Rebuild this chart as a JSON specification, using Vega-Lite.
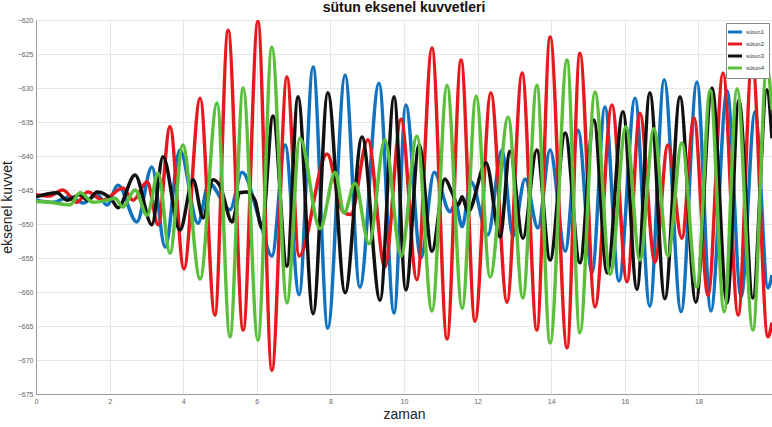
{
  "$schema": "https://vega.github.io/schema/vega-lite/v6.json",
  "width": 736,
  "height": 374,
  "autosize": {"type": "none"},
  "padding": {"left": 36, "top": 20, "right": 0, "bottom": 33},
  "background": "white",
  "config": {
    "font": "Liberation Sans",
    "view": {"stroke": "#9a9a9a", "strokeWidth": 1},
    "axis": {"grid": true, "gridColor": "#e6e6e6", "gridWidth": 1, "ticks": false, "domainColor": "#9a9a9a", "labelFont": "Liberation Sans", "labelFontSize": 7, "labelColor": "#666666", "titleFont": "Liberation Sans", "titleFontWeight": "normal", "titleColor": "#222222", "titleFontSize": 14}
  },
  "title": {"text": "sütun eksenel kuvvetleri", "font": "Liberation Sans", "fontSize": 14, "fontWeight": "bold", "color": "#111111", "offset": 1},
  "data": {
    "values": [
      {"s":"sütun1","t":0,"v":-646.5},{"s":"sütun1","t":0.46,"v":-646.8},{"s":"sütun1","t":0.92,"v":-646.0},{"s":"sütun1","t":1.28,"v":-646.9},{"s":"sütun1","t":1.66,"v":-645.7},{"s":"sütun1","t":1.93,"v":-647.2},{"s":"sütun1","t":2.23,"v":-644.3},{"s":"sütun1","t":2.74,"v":-649.7},{"s":"sütun1","t":3.15,"v":-641.6},{"s":"sütun1","t":3.51,"v":-653.4},{"s":"sütun1","t":3.91,"v":-639.1},{"s":"sütun1","t":4.40,"v":-649.9},{"s":"sütun1","t":4.70,"v":-644.0},{"s":"sütun1","t":5.27,"v":-647.9},{"s":"sütun1","t":5.60,"v":-642.4},{"s":"sütun1","t":6.09,"v":-649.7},{"s":"sütun1","t":6.41,"v":-654.7},{"s":"sütun1","t":6.77,"v":-638.4},{"s":"sütun1","t":7.15,"v":-660.4},{"s":"sütun1","t":7.53,"v":-626.9},{"s":"sütun1","t":7.93,"v":-665.3},{"s":"sütun1","t":8.40,"v":-628.1},{"s":"sütun1","t":8.80,"v":-659.3},{"s":"sütun1","t":9.32,"v":-629.3},{"s":"sütun1","t":9.73,"v":-663.1},{"s":"sütun1","t":10.05,"v":-632.5},{"s":"sütun1","t":10.46,"v":-655.0},{"s":"sütun1","t":10.82,"v":-642.4},{"s":"sütun1","t":11.25,"v":-648.2},{"s":"sütun1","t":11.40,"v":-647.0},{"s":"sütun1","t":11.58,"v":-650.4},{"s":"sütun1","t":11.82,"v":-643.8},{"s":"sütun1","t":12.28,"v":-651.6},{"s":"sütun1","t":12.66,"v":-639.1},{"s":"sütun1","t":12.96,"v":-651.8},{"s":"sütun1","t":13.29,"v":-643.4},{"s":"sütun1","t":13.64,"v":-650.6},{"s":"sütun1","t":13.97,"v":-639.1},{"s":"sütun1","t":14.38,"v":-654.0},{"s":"sütun1","t":14.73,"v":-636.2},{"s":"sütun1","t":15.11,"v":-657.1},{"s":"sütun1","t":15.46,"v":-632.8},{"s":"sütun1","t":15.84,"v":-658.4},{"s":"sütun1","t":16.28,"v":-631.5},{"s":"sütun1","t":16.68,"v":-662.1},{"s":"sütun1","t":17.07,"v":-628.8},{"s":"sütun1","t":17.53,"v":-662.9},{"s":"sütun1","t":17.96,"v":-629.1},{"s":"sütun1","t":18.34,"v":-662.8},{"s":"sütun1","t":18.78,"v":-630.4},{"s":"sütun1","t":19.16,"v":-660.7},{"s":"sütun1","t":19.54,"v":-633.5},{"s":"sütun1","t":19.89,"v":-659.4},{"s":"sütun1","t":20.0,"v":-657.5},
      {"s":"sütun2","t":0,"v":-645.7},{"s":"sütun2","t":0.35,"v":-645.9},{"s":"sütun2","t":0.73,"v":-645.0},{"s":"sütun2","t":1.11,"v":-646.8},{"s":"sütun2","t":1.41,"v":-645.3},{"s":"sütun2","t":1.82,"v":-646.5},{"s":"sütun2","t":2.36,"v":-644.7},{"s":"sütun2","t":2.64,"v":-646.5},{"s":"sütun2","t":3.02,"v":-643.8},{"s":"sütun2","t":3.32,"v":-650.1},{"s":"sütun2","t":3.64,"v":-635.7},{"s":"sütun2","t":4.02,"v":-656.6},{"s":"sütun2","t":4.46,"v":-631.5},{"s":"sütun2","t":4.86,"v":-663.4},{"s":"sütun2","t":5.22,"v":-621.5},{"s":"sütun2","t":5.63,"v":-665.6},{"s":"sütun2","t":6.03,"v":-620.2},{"s":"sütun2","t":6.41,"v":-671.5},{"s":"sütun2","t":6.82,"v":-628.4},{"s":"sütun2","t":7.15,"v":-654.7},{"s":"sütun2","t":7.91,"v":-639.7},{"s":"sütun2","t":8.34,"v":-648.2},{"s":"sütun2","t":8.55,"v":-648.6},{"s":"sütun2","t":9.02,"v":-637.6},{"s":"sütun2","t":9.48,"v":-656.3},{"s":"sütun2","t":9.92,"v":-634.6},{"s":"sütun2","t":10.35,"v":-658.2},{"s":"sütun2","t":10.76,"v":-624.1},{"s":"sütun2","t":11.17,"v":-666.9},{"s":"sütun2","t":11.55,"v":-625.9},{"s":"sütun2","t":11.93,"v":-664.3},{"s":"sütun2","t":12.36,"v":-630.7},{"s":"sütun2","t":12.80,"v":-661.5},{"s":"sütun2","t":13.21,"v":-627.8},{"s":"sütun2","t":13.61,"v":-665.6},{"s":"sütun2","t":13.97,"v":-622.5},{"s":"sütun2","t":14.43,"v":-668.2},{"s":"sütun2","t":14.78,"v":-624.9},{"s":"sütun2","t":15.19,"v":-662.2},{"s":"sütun2","t":15.65,"v":-632.5},{"s":"sütun2","t":16.06,"v":-658.5},{"s":"sütun2","t":16.41,"v":-633.7},{"s":"sütun2","t":16.82,"v":-655.6},{"s":"sütun2","t":17.17,"v":-638.4},{"s":"sütun2","t":17.55,"v":-652.1},{"s":"sütun2","t":17.88,"v":-634.4},{"s":"sütun2","t":18.26,"v":-660.5},{"s":"sütun2","t":18.67,"v":-627.8},{"s":"sütun2","t":19.08,"v":-663.4},{"s":"sütun2","t":19.46,"v":-625.9},{"s":"sütun2","t":19.89,"v":-666.6},{"s":"sütun2","t":20.0,"v":-664.5},
      {"s":"sütun3","t":0,"v":-646.0},{"s":"sütun3","t":0.57,"v":-645.4},{"s":"sütun3","t":0.84,"v":-646.5},{"s":"sütun3","t":1.20,"v":-645.7},{"s":"sütun3","t":1.41,"v":-646.5},{"s":"sütun3","t":1.66,"v":-645.3},{"s":"sütun3","t":2.07,"v":-646.5},{"s":"sütun3","t":2.23,"v":-647.6},{"s":"sütun3","t":2.69,"v":-642.8},{"s":"sütun3","t":3.15,"v":-650.1},{"s":"sütun3","t":3.45,"v":-640.1},{"s":"sütun3","t":3.91,"v":-650.9},{"s":"sütun3","t":4.27,"v":-643.5},{"s":"sütun3","t":4.54,"v":-649.1},{"s":"sütun3","t":4.81,"v":-643.5},{"s":"sütun3","t":5.00,"v":-644.4},{"s":"sütun3","t":5.33,"v":-649.7},{"s":"sütun3","t":5.54,"v":-645.4},{"s":"sütun3","t":5.73,"v":-645.3},{"s":"sütun3","t":5.95,"v":-646.5},{"s":"sütun3","t":6.14,"v":-650.6},{"s":"sütun3","t":6.44,"v":-634.1},{"s":"sütun3","t":6.82,"v":-656.2},{"s":"sütun3","t":7.12,"v":-631.3},{"s":"sütun3","t":7.53,"v":-663.2},{"s":"sütun3","t":7.93,"v":-630.7},{"s":"sütun3","t":8.40,"v":-660.1},{"s":"sütun3","t":8.86,"v":-637.2},{"s":"sütun3","t":9.35,"v":-661.2},{"s":"sütun3","t":9.73,"v":-631.3},{"s":"sütun3","t":10.05,"v":-659.7},{"s":"sütun3","t":10.41,"v":-638.4},{"s":"sütun3","t":10.76,"v":-654.0},{"s":"sütun3","t":11.11,"v":-643.4},{"s":"sütun3","t":11.30,"v":-645.3},{"s":"sütun3","t":11.47,"v":-647.2},{"s":"sütun3","t":11.58,"v":-646.0},{"s":"sütun3","t":11.74,"v":-648.2},{"s":"sütun3","t":12.23,"v":-641.0},{"s":"sütun3","t":12.61,"v":-651.9},{"s":"sütun3","t":12.88,"v":-639.3},{"s":"sütun3","t":13.23,"v":-652.1},{"s":"sütun3","t":13.61,"v":-639.1},{"s":"sütun3","t":13.97,"v":-655.3},{"s":"sütun3","t":14.38,"v":-636.6},{"s":"sütun3","t":14.78,"v":-655.7},{"s":"sütun3","t":15.16,"v":-634.7},{"s":"sütun3","t":15.52,"v":-657.2},{"s":"sütun3","t":15.95,"v":-633.5},{"s":"sütun3","t":16.33,"v":-659.6},{"s":"sütun3","t":16.68,"v":-630.7},{"s":"sütun3","t":17.09,"v":-661.0},{"s":"sütun3","t":17.50,"v":-631.3},{"s":"sütun3","t":17.93,"v":-661.5},{"s":"sütun3","t":18.37,"v":-630.0},{"s":"sütun3","t":18.78,"v":-661.6},{"s":"sütun3","t":19.10,"v":-631.8},{"s":"sütun3","t":19.48,"v":-660.9},{"s":"sütun3","t":19.86,"v":-630.3},{"s":"sütun3","t":20.0,"v":-637.4},
      {"s":"sütun4","t":0,"v":-646.7},{"s":"sütun4","t":0.38,"v":-646.8},{"s":"sütun4","t":0.92,"v":-647.2},{"s":"sütun4","t":1.20,"v":-645.4},{"s":"sütun4","t":1.55,"v":-646.8},{"s":"sütun4","t":1.93,"v":-646.5},{"s":"sütun4","t":2.15,"v":-646.2},{"s":"sütun4","t":2.36,"v":-647.5},{"s":"sütun4","t":2.69,"v":-645.0},{"s":"sütun4","t":3.02,"v":-648.7},{"s":"sütun4","t":3.32,"v":-642.5},{"s":"sütun4","t":3.64,"v":-654.3},{"s":"sütun4","t":3.99,"v":-638.4},{"s":"sütun4","t":4.46,"v":-658.1},{"s":"sütun4","t":4.92,"v":-632.2},{"s":"sütun4","t":5.27,"v":-666.6},{"s":"sütun4","t":5.63,"v":-630.0},{"s":"sütun4","t":6.03,"v":-667.1},{"s":"sütun4","t":6.41,"v":-624.0},{"s":"sütun4","t":6.82,"v":-661.6},{"s":"sütun4","t":7.17,"v":-637.4},{"s":"sütun4","t":7.72,"v":-650.7},{"s":"sütun4","t":8.13,"v":-642.4},{"s":"sütun4","t":8.37,"v":-648.4},{"s":"sütun4","t":8.67,"v":-644.0},{"s":"sütun4","t":9.05,"v":-652.9},{"s":"sütun4","t":9.48,"v":-637.6},{"s":"sütun4","t":9.92,"v":-654.7},{"s":"sütun4","t":10.35,"v":-637.1},{"s":"sütun4","t":10.76,"v":-662.8},{"s":"sütun4","t":11.17,"v":-629.6},{"s":"sütun4","t":11.58,"v":-662.4},{"s":"sütun4","t":11.96,"v":-631.2},{"s":"sütun4","t":12.34,"v":-657.8},{"s":"sütun4","t":12.83,"v":-634.3},{"s":"sütun4","t":13.23,"v":-660.9},{"s":"sütun4","t":13.61,"v":-629.6},{"s":"sütun4","t":13.97,"v":-667.5},{"s":"sütun4","t":14.43,"v":-625.9},{"s":"sütun4","t":14.78,"v":-666.0},{"s":"sütun4","t":15.19,"v":-630.6},{"s":"sütun4","t":15.60,"v":-657.4},{"s":"sütun4","t":16.03,"v":-635.7},{"s":"sütun4","t":16.41,"v":-655.3},{"s":"sütun4","t":16.79,"v":-636.0},{"s":"sütun4","t":17.17,"v":-654.7},{"s":"sütun4","t":17.55,"v":-638.1},{"s":"sütun4","t":17.96,"v":-659.3},{"s":"sütun4","t":18.32,"v":-630.3},{"s":"sütun4","t":18.70,"v":-662.9},{"s":"sütun4","t":19.05,"v":-630.1},{"s":"sütun4","t":19.48,"v":-665.6},{"s":"sütun4","t":19.86,"v":-626.9},{"s":"sütun4","t":20.0,"v":-633.2}
    ]
  },
  "mark": {"type": "line", "strokeWidth": 3.5, "interpolate": "monotone", "clip": true},
  "encoding": {
    "x": {"field": "t", "type": "quantitative", "title": "zaman",
          "scale": {"domain": [0, 20], "nice": false},
          "axis": {"values": [0, 2, 4, 6, 8, 10, 12, 14, 16, 18], "labelPadding": 3, "titlePadding": 3, "labelFlush": false}},
    "y": {"field": "v", "type": "quantitative", "title": "eksenel kuvvet",
          "scale": {"domain": [-675, -620], "nice": false},
          "axis": {"values": [-675, -670, -665, -660, -655, -650, -645, -640, -635, -630, -625, -620], "labelPadding": 3, "titlePadding": 3, "format": "d"}},
    "color": {"field": "s", "type": "nominal",
              "scale": {"domain": ["sütun1", "sütun2", "sütun3", "sütun4"], "range": ["#1172c0", "#e5191e", "#111111", "#5cbf3c"]},
              "legend": {"title": null, "orient": "top-right", "offset": 3, "symbolType": "M-2,0H2", "symbolSize": 49, "symbolStrokeWidth": 3, "labelFontSize": 6, "labelFont": "Liberation Sans", "labelColor": "#333333", "labelOffset": 6, "rowPadding": 0, "padding": 4, "strokeColor": "#888888", "fillColor": "white", "cornerRadius": 0}}
  }
}
